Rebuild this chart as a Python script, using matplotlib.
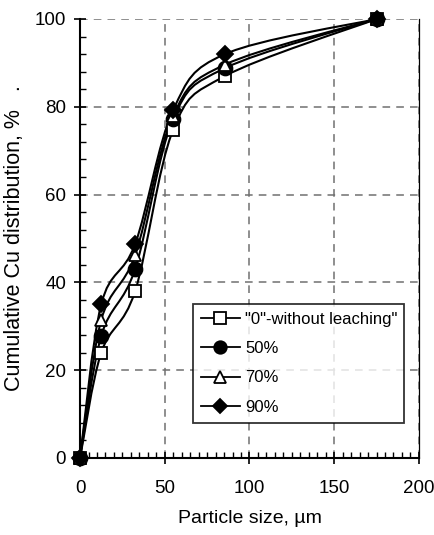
import matplotlib
matplotlib.use("Agg")
import matplotlib.pyplot as plt
import numpy as np
from matplotlib.path import Path
from matplotlib.patches import PathPatch
from matplotlib.lines import Line2D
from matplotlib.ticker import MultipleLocator

plt.rcParams['font.family'] = ['Liberation Sans', 'DejaVu Sans']

sizes = [0, 12.5, 32.5, 55, 85.5, 175]
series_labels = ['"0"-without leaching"', '50%', '70%', '90%']
vals_0 = [0, 24.0, 38.0, 74.8, 87.0, 100]
vals_50 = [0, 27.8, 43.0, 77.2, 88.8, 100]
vals_70 = [0, 31.4, 46.2, 78.0, 89.6, 100]
vals_90 = [0, 35.0, 48.7, 79.3, 92.0, 100]
markers = ['s', 'o', '^', 'D']
fills = ['white', 'black', 'white', 'black']
msizes = [9, 10, 9, 8]

fig = plt.figure(figsize=(4.35, 5.35), dpi=100)
ax = fig.add_axes([0.184, 0.144, 0.779, 0.8205])


def smooth_path(ax, x, y, t=1/6):
    # cardinal (Catmull-Rom style) bezier smoothing in display space
    pts = ax.transData.transform(np.column_stack([x, y]))
    n = len(pts)
    verts = [pts[0]]
    codes = [Path.MOVETO]
    for i in range(n - 1):
        p0 = pts[i - 1] if i > 0 else pts[i]
        p1 = pts[i]
        p2 = pts[i + 1]
        p3 = pts[i + 2] if i + 2 < n else pts[i + 1]
        c1 = p1 + (p2 - p0) * t
        c2 = p2 - (p3 - p1) * t
        verts += [c1, c2, p2]
        codes += [Path.CURVE4] * 3
    return Path(verts, codes)


ax.set_xlim(0, 200)
ax.set_ylim(0, 100)

all_vals = [vals_0, vals_50, vals_70, vals_90]
handles = []
for v, m, f, ms, lab in zip(all_vals, markers, fills, msizes, series_labels):
    path = smooth_path(ax, sizes, v)
    patch = PathPatch(path, transform=None, facecolor='none', edgecolor='black',
                      lw=1.5, zorder=3, clip_on=False)
    ax.add_patch(patch)
    ax.plot(sizes, v, linestyle='none', marker=m, markersize=ms,
            markerfacecolor=f, markeredgecolor='black', markeredgewidth=1.3,
            zorder=4, clip_on=False)
    handles.append(Line2D([], [], color='black', lw=1.3, marker=m,
                          markersize=ms * 0.9, markerfacecolor=f,
                          markeredgecolor='black', markeredgewidth=1.3, label=lab))

ax.xaxis.set_major_locator(MultipleLocator(50))
ax.xaxis.set_minor_locator(MultipleLocator(5))
ax.yaxis.set_major_locator(MultipleLocator(20))
ax.yaxis.set_minor_locator(MultipleLocator(4))
ax.tick_params(which='major', direction='inout', length=8, width=1.2,
               labelsize=13.5)
ax.tick_params(axis='x', which='major', pad=12)
ax.tick_params(axis='y', which='major', pad=6)
ax.tick_params(which='minor', direction='in', length=4, width=1)
ax.grid(True, which='major', color='#707070', linestyle=(0, (5, 4)), lw=1.1)
ax.set_axisbelow(True)
ax.spines['top'].set_visible(False)
ax.spines['right'].set_linewidth(0.9)
for s in ['left', 'bottom']:
    ax.spines[s].set_linewidth(1.5)

ax.set_xlabel('Particle size, \u00b5m', fontsize=14, labelpad=9)
ax.set_ylabel('Cumulative Cu distribution, %   .', fontsize=15.5, labelpad=7)

leg = ax.legend(handles=handles, loc='lower left',
                bbox_to_anchor=(0.333, 0.08, 0.622, 0.271), mode='expand',
                fontsize=12, frameon=True, fancybox=False, edgecolor='black',
                handlelength=2.3, handletextpad=0.35, borderpad=0.5,
                labelspacing=0.85, borderaxespad=0)
leg.get_frame().set_linewidth(1.3)
leg.set_zorder(5)

fig.savefig('out.png', dpi=100, facecolor='white')
